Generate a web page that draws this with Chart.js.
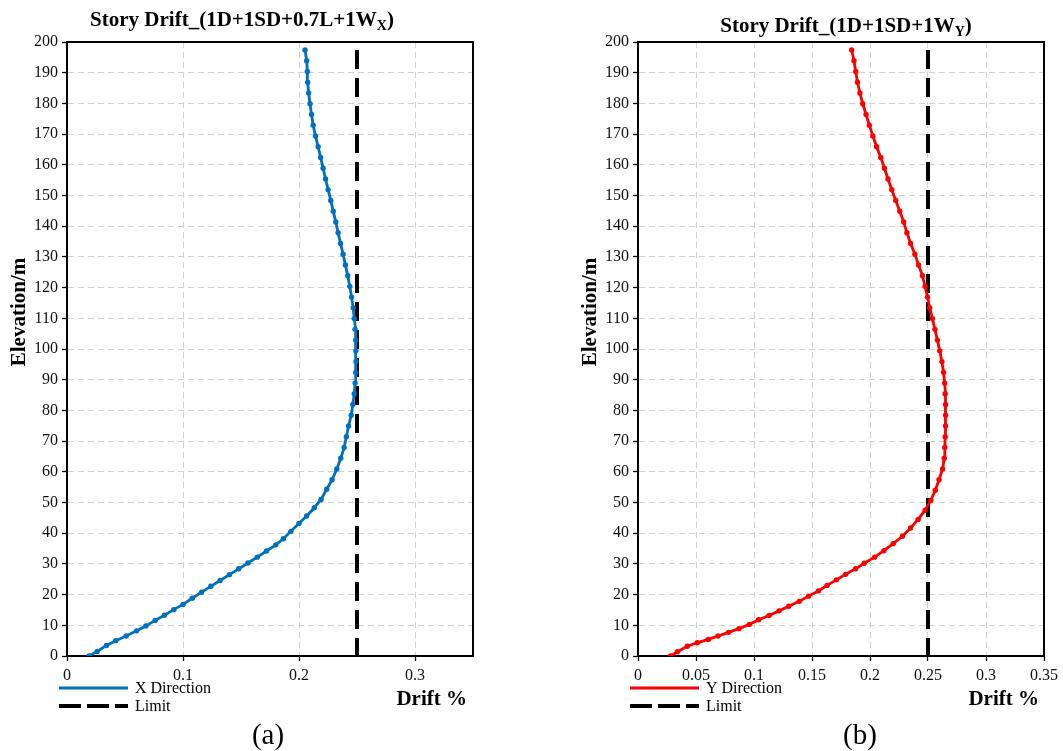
<!DOCTYPE html>
<html>
<head>
<meta charset="utf-8">
<script src="https://cdn.jsdelivr.net/npm/chart.js@4.4.0/dist/chart.umd.min.js"></script>
<style>
  html, body { margin: 0; padding: 0; background: #fff; overflow: hidden; }
  canvas { position: absolute; top: 0; }
  #chartA { left: 0; }
  #chartB { left: 531px; }
</style>
</head>
<body>
<canvas id="chartA" width="531" height="751"></canvas>
<canvas id="chartB" width="532" height="751"></canvas>
<script>
// Story elevations (m) and drift ratios (%) for the X-direction wind case
const elevX = [0, 1.5, 3.4, 5.0, 6.5, 8.2, 9.8, 11.6, 13.3, 15.1,
  16.8, 18.8, 20.8, 22.7, 24.6, 26.5, 28.4, 30.3, 32.2, 34.2,
  36.2, 38.2, 40.6, 43.2, 45.6, 48.3, 51.0, 54.3, 57.4, 60.9,
  64.4, 67.9, 71.4, 74.9, 78.4, 81.9, 85.4, 88.9, 92.4, 95.9,
  99.4, 102.9, 106.4, 109.9, 113.4, 116.9, 120.4, 123.9, 127.4, 130.9,
  134.4, 137.9, 141.4, 144.9, 148.4, 151.9, 155.4, 158.9, 162.4, 165.9,
  169.4, 172.9, 176.4, 179.9, 183.4, 186.9, 190.4, 193.9, 197.4];
const driftX = [0.019, 0.026, 0.034, 0.042, 0.051, 0.060, 0.068, 0.076, 0.084, 0.092,
  0.100, 0.108, 0.116, 0.124, 0.132, 0.140, 0.148, 0.156, 0.164, 0.172,
  0.180, 0.1865, 0.193, 0.2000, 0.2066, 0.2132, 0.2190, 0.2239, 0.2285, 0.2326,
  0.2360, 0.2389, 0.2408, 0.2427, 0.2450, 0.2464, 0.2476, 0.2484, 0.2489, 0.2491,
  0.2490, 0.2488, 0.2483, 0.2476, 0.2467, 0.2453, 0.2438, 0.2420, 0.2400, 0.2380,
  0.2358, 0.2337, 0.2317, 0.2295, 0.2274, 0.2251, 0.2229, 0.2208, 0.2186, 0.2165,
  0.2142, 0.2122, 0.2108, 0.2095, 0.2083, 0.2075, 0.2072, 0.2066, 0.2052];

// Story elevations (m) and drift ratios (%) for the Y-direction wind case
const elevY = [0, 1.4, 3.2, 4.3, 5.4, 6.5, 7.7, 8.9, 10.3, 11.8,
  13.2, 14.7, 16.2, 17.8, 19.5, 21.2, 23.0, 24.8, 26.6, 28.4,
  30.2, 32.2, 34.3, 36.6, 39.0, 41.7, 44.5, 47.5, 50.7, 54.0,
  57.4, 60.9, 64.4, 67.9, 71.4, 74.9, 78.4, 81.9, 85.4, 88.9,
  92.4, 95.9, 99.4, 102.9, 106.4, 109.9, 113.4, 116.9, 120.4, 123.9,
  127.4, 130.9, 134.4, 137.9, 141.4, 144.9, 148.4, 151.9, 155.4, 158.9,
  162.4, 165.9, 169.4, 172.9, 176.4, 179.9, 183.4, 186.9, 190.4, 193.9, 197.4];
const driftY = [0.028, 0.034, 0.0425, 0.051, 0.0606, 0.069, 0.078, 0.087, 0.096, 0.104,
  0.113, 0.1216, 0.130, 0.139, 0.147, 0.1555, 0.163, 0.171, 0.179, 0.1876,
  0.195, 0.204, 0.212, 0.220, 0.228, 0.235, 0.2415, 0.2475, 0.2525, 0.2563,
  0.2595, 0.2626, 0.2640, 0.2645, 0.2648, 0.2651, 0.2652, 0.2651, 0.2648, 0.2644,
  0.2634, 0.2620, 0.2601, 0.2581, 0.2560, 0.2538, 0.2515, 0.2496, 0.2475, 0.2452,
  0.2418, 0.2387, 0.2350, 0.2318, 0.2290, 0.2257, 0.2222, 0.2188, 0.2155, 0.2124,
  0.2093, 0.2057, 0.2025, 0.1994, 0.1966, 0.1937, 0.1913, 0.1892, 0.1877, 0.1862, 0.1842];

// Allowable drift limit (%) and the elevation span it is drawn over
const limitDrift = 0.25;
const limitSpan = [197.4, 0];

// Axis ranges and tick steps
const yRange = [0, 200];
const yStep = 10;
const xRangeA = [0, 0.35], xStepA = 0.1;
const xRangeB = [0, 0.35], xStepB = 0.05;

// Texts
const titleA = ['Story Drift_(1D+1SD+0.7L+1W', 'X', ')'];
const titleB = ['Story Drift_(1D+1SD+1W', 'Y', ')'];
const yTitle = 'Elevation/m';
const xTitle = 'Drift %';
const seriesA = 'X Direction';
const seriesB = 'Y Direction';
const limitName = 'Limit';
const captionA = '(a)';
const captionB = '(b)';

const SERIF = '"Liberation Serif", "Times New Roman", serif';
const INK = '#000';

function toPoints(xs, ys) { return ys.map((y, i) => ({ x: xs[i], y })); }

function fmt(v) { return String(+(+v).toFixed(2)); }

// Frame, titles, legend and caption drawn around the plot area
function decor(s) {
  return {
    id: 'decor',
    beforeDatasetsDraw(chart) {
      const { ctx, chartArea: a } = chart;
      ctx.save();
      ctx.strokeStyle = INK;
      ctx.lineWidth = 2;
      ctx.strokeRect(a.left, a.top, a.right - a.left, a.bottom - a.top);
      ctx.restore();
    },
    afterDraw(chart) {
      const ctx = chart.ctx;
      ctx.save();
      ctx.fillStyle = INK;
      // chart title with subscript
      const [t1, t2, t3] = s.title;
      ctx.textBaseline = 'alphabetic';
      ctx.textAlign = 'left';
      ctx.font = 'bold 21px ' + SERIF;
      const w1 = ctx.measureText(t1).width;
      const w3 = ctx.measureText(t3).width;
      ctx.font = 'bold 14px ' + SERIF;
      const w2 = ctx.measureText(t2).width;
      let x0 = s.titleX - (w1 + w2 + w3) / 2;
      ctx.font = 'bold 21px ' + SERIF;
      ctx.fillText(t1, x0, s.titleY);
      ctx.font = 'bold 14px ' + SERIF;
      ctx.fillText(t2, x0 + w1, s.titleY + 4);
      ctx.font = 'bold 21px ' + SERIF;
      ctx.fillText(t3, x0 + w1 + w2, s.titleY);

      // vertical axis title
      ctx.save();
      ctx.translate(s.yTitleX, 312);
      ctx.rotate(-Math.PI / 2);
      ctx.textAlign = 'center';
      ctx.textBaseline = 'middle';
      ctx.font = 'bold 21px ' + SERIF;
      ctx.fillText(yTitle, 0, 0);
      ctx.restore();

      // horizontal axis title
      ctx.textAlign = 'right';
      ctx.textBaseline = 'middle';
      ctx.font = 'bold 21px ' + SERIF;
      ctx.fillText(xTitle, s.xTitleRight, 700);

      // legend
      const lx = s.legendX;
      ctx.lineCap = 'butt';
      ctx.strokeStyle = s.color;
      ctx.lineWidth = 2.8;
      ctx.beginPath();
      ctx.moveTo(lx, 688);
      ctx.lineTo(lx + 69, 688);
      ctx.stroke();
      ctx.strokeStyle = INK;
      ctx.lineWidth = 4;
      ctx.setLineDash([22, 6]);
      ctx.beginPath();
      ctx.moveTo(lx, 706);
      ctx.lineTo(lx + 69, 706);
      ctx.stroke();
      ctx.setLineDash([]);
      ctx.textAlign = 'left';
      ctx.font = '16px ' + SERIF;
      ctx.fillText(s.series, lx + 76, 689);
      ctx.fillText(limitName, lx + 76, 707);

      // panel caption
      ctx.textAlign = 'center';
      ctx.font = '29px ' + SERIF;
      ctx.fillText(s.caption, s.captionX, 736);
      ctx.restore();
    }
  };
}

function makeChart(id, s) {
  const tickFont = { family: SERIF, size: 16 };
  return new Chart(document.getElementById(id), {
    type: 'scatter',
    data: {
      datasets: [
        {
          label: s.series,
          data: s.points,
          showLine: true,
          borderColor: s.color,
          backgroundColor: s.color,
          borderWidth: 2.8,
          pointRadius: 2.7,
          pointHoverRadius: 2.7,
          pointBorderWidth: 0,
          tension: 0
        },
        {
          label: limitName,
          data: limitSpan.map(y => ({ x: limitDrift, y })),
          showLine: true,
          borderColor: INK,
          borderWidth: 4,
          borderDash: [19, 9],
          borderCapStyle: 'butt',
          pointRadius: 0,
          pointHoverRadius: 0,
          tension: 0
        }
      ]
    },
    options: {
      responsive: false,
      animation: false,
      events: [],
      layout: { padding: { top: 42, right: s.padRight, bottom: 0, left: 0 } },
      plugins: {
        legend: { display: false },
        tooltip: { enabled: false },
        title: { display: false }
      },
      scales: {
        x: {
          type: 'linear',
          min: s.xRange[0],
          max: s.xRange[1],
          ticks: {
            stepSize: s.xStep,
            includeBounds: s.xBounds,
            autoSkip: false,
            maxRotation: 0,
            padding: 5,
            color: '#111',
            font: tickFont,
            callback: v => fmt(v)
          },
          grid: { color: '#d2d2d2', lineWidth: 1, tickColor: INK, tickLength: 5, tickWidth: 1.3 },
          border: { display: true, color: INK, width: 2, dash: [6, 4] },
          afterFit: sc => { sc.height = 95; }
        },
        y: {
          type: 'linear',
          min: yRange[0],
          max: yRange[1],
          ticks: {
            stepSize: yStep,
            autoSkip: false,
            padding: 4,
            color: '#111',
            font: tickFont
          },
          grid: { color: '#d2d2d2', lineWidth: 1, tickColor: INK, tickLength: 5, tickWidth: 1.3 },
          border: { display: true, color: INK, width: 2, dash: [6, 4] },
          afterFit: sc => { sc.width = s.yAxisWidth; }
        }
      }
    },
    plugins: [decor(s)]
  });
}

makeChart('chartA', {
  points: toPoints(driftX, elevX),
  color: '#0070C0',
  series: seriesA,
  title: titleA,
  titleX: 242, titleY: 26,
  yTitleX: 20,
  xTitleRight: 467,
  legendX: 59,
  caption: captionA, captionX: 268,
  xRange: xRangeA, xStep: xStepA, xBounds: false,
  yAxisWidth: 67,
  padRight: 58
});

makeChart('chartB', {
  points: toPoints(driftY, elevY),
  color: '#FF0000',
  series: seriesB,
  title: titleB,
  titleX: 315, titleY: 32,
  yTitleX: 60,
  xTitleRight: 508,
  legendX: 99,
  caption: captionB, captionX: 329,
  xRange: xRangeB, xStep: xStepB, xBounds: true,
  yAxisWidth: 107,
  padRight: 19
});
</script>
</body>
</html>
